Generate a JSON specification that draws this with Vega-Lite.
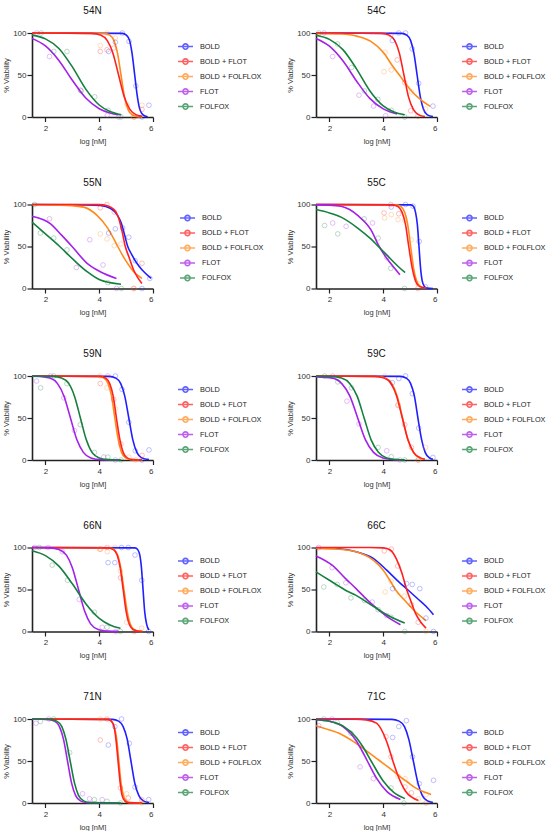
{
  "$schema": "https://vega.github.io/schema/vega-lite/v6.json",
  "padding": {"left": 2, "top": 6, "right": 0, "bottom": 0},
  "config": {
    "font": "Liberation Sans",
    "view": {"stroke": null},
    "axis": {"grid": false, "domainColor": "#222", "domainWidth": 1.6, "tickColor": "#222", "tickWidth": 1.2, "labelFontSize": 8, "labelColor": "#333", "titleFontSize": 7.5, "titleFontWeight": "normal", "titleColor": "#333"},
    "axisX": {"tickSize": 4.5, "labelPadding": 2.5, "titlePadding": 5},
    "axisY": {"tickSize": 5, "labelPadding": 1, "titlePadding": 2},
    "legend": {"orient": "right", "offset": 19, "padding": 5, "labelFontSize": 7.3, "labelColor": "#222", "labelOffset": 6, "symbolType": "M-1,0H1M-0.35,0A0.35,0.35 0 1,1 0.35,0A0.35,0.35 0 1,1 -0.35,0", "symbolSize": 225, "symbolStrokeWidth": 1.5, "symbolFillColor": "transparent", "rowPadding": 0},
    "title": {"fontSize": 10, "fontWeight": "normal", "color": "#111", "offset": 13, "frame": "group", "anchor": "middle"},
    "style": {"group-title": {"fontWeight": "normal", "fontSize": 10}}
  },
  "data": {"name": "d"},
  "datasets": {
    "d": [
      {"p":"54N","k":"c","d":"BOLD","x":1.5,"y":100},{"p":"54N","k":"c","d":"BOLD","x":4.86,"y":99.6},{"p":"54N","k":"c","d":"BOLD","x":5.01,"y":97.5},{"p":"54N","k":"c","d":"BOLD","x":5.13,"y":90.9},{"p":"54N","k":"c","d":"BOLD","x":5.22,"y":76},{"p":"54N","k":"c","d":"BOLD","x":5.32,"y":50},{"p":"54N","k":"c","d":"BOLD","x":5.42,"y":24},{"p":"54N","k":"c","d":"BOLD","x":5.51,"y":9.1},{"p":"54N","k":"c","d":"BOLD","x":5.63,"y":2.5},{"p":"54N","k":"c","d":"BOLD","x":5.8,"y":0.3},
      {"p":"54N","k":"c","d":"BOLD + FOLFLOX","x":1.5,"y":100},{"p":"54N","k":"c","d":"BOLD + FOLFLOX","x":4.18,"y":99.6},{"p":"54N","k":"c","d":"BOLD + FOLFLOX","x":4.39,"y":97.5},{"p":"54N","k":"c","d":"BOLD + FOLFLOX","x":4.55,"y":90.9},{"p":"54N","k":"c","d":"BOLD + FOLFLOX","x":4.68,"y":76},{"p":"54N","k":"c","d":"BOLD + FOLFLOX","x":4.81,"y":50},{"p":"54N","k":"c","d":"BOLD + FOLFLOX","x":4.94,"y":24},{"p":"54N","k":"c","d":"BOLD + FOLFLOX","x":5.07,"y":9.1},{"p":"54N","k":"c","d":"BOLD + FOLFLOX","x":5.23,"y":2.5},{"p":"54N","k":"c","d":"BOLD + FOLFLOX","x":5.44,"y":0.4},{"p":"54N","k":"c","d":"BOLD + FOLFLOX","x":5.6,"y":0.1},
      {"p":"54N","k":"c","d":"BOLD + FLOT","x":1.5,"y":100},{"p":"54N","k":"c","d":"BOLD + FLOT","x":3.72,"y":99.6},{"p":"54N","k":"c","d":"BOLD + FLOT","x":4.05,"y":97.5},{"p":"54N","k":"c","d":"BOLD + FLOT","x":4.3,"y":90.9},{"p":"54N","k":"c","d":"BOLD + FLOT","x":4.51,"y":76},{"p":"54N","k":"c","d":"BOLD + FLOT","x":4.72,"y":50},{"p":"54N","k":"c","d":"BOLD + FLOT","x":4.93,"y":24},{"p":"54N","k":"c","d":"BOLD + FLOT","x":5.14,"y":9.1},{"p":"54N","k":"c","d":"BOLD + FLOT","x":5.39,"y":2.5},{"p":"54N","k":"c","d":"BOLD + FLOT","x":5.6,"y":0.8},
      {"p":"54N","k":"c","d":"FLOT","x":1.5,"y":93.6},{"p":"54N","k":"c","d":"FLOT","x":2,"y":84.6},{"p":"54N","k":"c","d":"FLOT","x":2.5,"y":67.4},{"p":"54N","k":"c","d":"FLOT","x":3,"y":43.7},{"p":"54N","k":"c","d":"FLOT","x":3.5,"y":22.6},{"p":"54N","k":"c","d":"FLOT","x":4,"y":9.9},{"p":"54N","k":"c","d":"FLOT","x":4.4,"y":4.8},{"p":"54N","k":"c","d":"FLOT","x":4.72,"y":2.6},
      {"p":"54N","k":"c","d":"FOLFOX","x":1.5,"y":97.5},{"p":"54N","k":"c","d":"FOLFOX","x":2,"y":93},{"p":"54N","k":"c","d":"FOLFOX","x":2.5,"y":81.6},{"p":"54N","k":"c","d":"FOLFOX","x":3,"y":59.7},{"p":"54N","k":"c","d":"FOLFOX","x":3.5,"y":33.2},{"p":"54N","k":"c","d":"FOLFOX","x":4,"y":14.3},{"p":"54N","k":"c","d":"FOLFOX","x":4.4,"y":6.5},{"p":"54N","k":"c","d":"FOLFOX","x":4.82,"y":2.7},
      {"p":"54N","k":"o","d":"FLOT","x":1.67,"y":100},{"p":"54N","k":"o","d":"FLOT","x":2.15,"y":72},{"p":"54N","k":"o","d":"FLOT","x":3.3,"y":32},{"p":"54N","k":"o","d":"FLOT","x":4.3,"y":2},{"p":"54N","k":"o","d":"FLOT","x":4.72,"y":0},
      {"p":"54N","k":"o","d":"FOLFOX","x":1.84,"y":100},{"p":"54N","k":"o","d":"FOLFOX","x":2.31,"y":78},{"p":"54N","k":"o","d":"FOLFOX","x":2.8,"y":78},{"p":"54N","k":"o","d":"FOLFOX","x":3.33,"y":31},{"p":"54N","k":"o","d":"FOLFOX","x":3.83,"y":24},{"p":"54N","k":"o","d":"FOLFOX","x":4.33,"y":8},{"p":"54N","k":"o","d":"FOLFOX","x":4.81,"y":0},
      {"p":"54N","k":"o","d":"BOLD","x":4.35,"y":78},{"p":"54N","k":"o","d":"BOLD","x":4.6,"y":89},{"p":"54N","k":"o","d":"BOLD","x":4.86,"y":100},{"p":"54N","k":"o","d":"BOLD","x":5.11,"y":90},{"p":"54N","k":"o","d":"BOLD","x":5.36,"y":37},{"p":"54N","k":"o","d":"BOLD","x":5.85,"y":14},{"p":"54N","k":"o","d":"BOLD","x":5.59,"y":0},
      {"p":"54N","k":"o","d":"BOLD + FLOT","x":4.04,"y":78},{"p":"54N","k":"o","d":"BOLD + FLOT","x":4.29,"y":80},{"p":"54N","k":"o","d":"BOLD + FLOT","x":4.54,"y":82},{"p":"54N","k":"o","d":"BOLD + FLOT","x":5.59,"y":9},{"p":"54N","k":"o","d":"BOLD + FLOT","x":5.3,"y":0},
      {"p":"54N","k":"o","d":"BOLD + FOLFLOX","x":4.04,"y":85},{"p":"54N","k":"o","d":"BOLD + FOLFLOX","x":4.29,"y":100},{"p":"54N","k":"o","d":"BOLD + FOLFLOX","x":4.6,"y":94},{"p":"54N","k":"o","d":"BOLD + FOLFLOX","x":5.03,"y":15},{"p":"54N","k":"o","d":"BOLD + FOLFLOX","x":5.28,"y":0},{"p":"54N","k":"o","d":"BOLD + FOLFLOX","x":5.59,"y":14},

      {"p":"54C","k":"c","d":"BOLD","x":1.5,"y":100},{"p":"54C","k":"c","d":"BOLD","x":4.69,"y":99.6},{"p":"54C","k":"c","d":"BOLD","x":4.88,"y":97.5},{"p":"54C","k":"c","d":"BOLD","x":5.02,"y":90.9},{"p":"54C","k":"c","d":"BOLD","x":5.14,"y":76},{"p":"54C","k":"c","d":"BOLD","x":5.26,"y":50},{"p":"54C","k":"c","d":"BOLD","x":5.38,"y":24},{"p":"54C","k":"c","d":"BOLD","x":5.5,"y":9.1},{"p":"54C","k":"c","d":"BOLD","x":5.64,"y":2.5},{"p":"54C","k":"c","d":"BOLD","x":5.85,"y":0.4},
      {"p":"54C","k":"c","d":"BOLD + FOLFLOX","x":1.5,"y":99.6},{"p":"54C","k":"c","d":"BOLD + FOLFLOX","x":2.43,"y":98.8},{"p":"54C","k":"c","d":"BOLD + FOLFLOX","x":3.05,"y":96},{"p":"54C","k":"c","d":"BOLD + FOLFLOX","x":3.54,"y":90},{"p":"54C","k":"c","d":"BOLD + FOLFLOX","x":4.03,"y":76},{"p":"54C","k":"c","d":"BOLD + FOLFLOX","x":4.34,"y":61},{"p":"54C","k":"c","d":"BOLD + FOLFLOX","x":4.6,"y":50},{"p":"54C","k":"c","d":"BOLD + FOLFLOX","x":4.85,"y":39},{"p":"54C","k":"c","d":"BOLD + FOLFLOX","x":5.05,"y":31},{"p":"54C","k":"c","d":"BOLD + FOLFLOX","x":5.38,"y":21},{"p":"54C","k":"c","d":"BOLD + FOLFLOX","x":5.75,"y":12.6},
      {"p":"54C","k":"c","d":"BOLD + FLOT","x":1.5,"y":100},{"p":"54C","k":"c","d":"BOLD + FLOT","x":3.94,"y":99.6},{"p":"54C","k":"c","d":"BOLD + FLOT","x":4.22,"y":97.5},{"p":"54C","k":"c","d":"BOLD + FLOT","x":4.43,"y":90.9},{"p":"54C","k":"c","d":"BOLD + FLOT","x":4.6,"y":76},{"p":"54C","k":"c","d":"BOLD + FLOT","x":4.77,"y":50},{"p":"54C","k":"c","d":"BOLD + FLOT","x":4.94,"y":24},{"p":"54C","k":"c","d":"BOLD + FLOT","x":5.12,"y":9.1},{"p":"54C","k":"c","d":"BOLD + FLOT","x":5.32,"y":2.5},{"p":"54C","k":"c","d":"BOLD + FLOT","x":5.55,"y":0.5},
      {"p":"54C","k":"c","d":"FLOT","x":1.5,"y":93.5},{"p":"54C","k":"c","d":"FLOT","x":2,"y":84.3},{"p":"54C","k":"c","d":"FLOT","x":2.5,"y":66.9},{"p":"54C","k":"c","d":"FLOT","x":3,"y":43.2},{"p":"54C","k":"c","d":"FLOT","x":3.5,"y":22.2},{"p":"54C","k":"c","d":"FLOT","x":4,"y":9.7},{"p":"54C","k":"c","d":"FLOT","x":4.52,"y":3.7},
      {"p":"54C","k":"c","d":"FOLFOX","x":1.5,"y":97.3},{"p":"54C","k":"c","d":"FOLFOX","x":2,"y":92.4},{"p":"54C","k":"c","d":"FOLFOX","x":2.5,"y":80.2},{"p":"54C","k":"c","d":"FOLFOX","x":3,"y":57.6},{"p":"54C","k":"c","d":"FOLFOX","x":3.5,"y":31.3},{"p":"54C","k":"c","d":"FOLFOX","x":4,"y":13.2},{"p":"54C","k":"c","d":"FOLFOX","x":4.4,"y":6},{"p":"54C","k":"c","d":"FOLFOX","x":4.8,"y":2.6},
      {"p":"54C","k":"o","d":"FLOT","x":1.8,"y":100},{"p":"54C","k":"o","d":"FLOT","x":2.12,"y":72},{"p":"54C","k":"o","d":"FLOT","x":3.1,"y":26},{"p":"54C","k":"o","d":"FLOT","x":3.64,"y":13},{"p":"54C","k":"o","d":"FLOT","x":4.09,"y":1.5},
      {"p":"54C","k":"o","d":"FOLFOX","x":1.6,"y":100},{"p":"54C","k":"o","d":"FOLFOX","x":2.3,"y":87},{"p":"54C","k":"o","d":"FOLFOX","x":2.82,"y":59},{"p":"54C","k":"o","d":"FOLFOX","x":3.3,"y":31},{"p":"54C","k":"o","d":"FOLFOX","x":3.8,"y":21},{"p":"54C","k":"o","d":"FOLFOX","x":4.3,"y":8},{"p":"54C","k":"o","d":"FOLFOX","x":4.8,"y":0},
      {"p":"54C","k":"o","d":"BOLD","x":4.34,"y":91},{"p":"54C","k":"o","d":"BOLD","x":4.58,"y":100},{"p":"54C","k":"o","d":"BOLD","x":4.83,"y":100},{"p":"54C","k":"o","d":"BOLD","x":5.08,"y":81},{"p":"54C","k":"o","d":"BOLD","x":5.32,"y":40},{"p":"54C","k":"o","d":"BOLD","x":5.85,"y":13},
      {"p":"54C","k":"o","d":"BOLD + FLOT","x":4.28,"y":98},{"p":"54C","k":"o","d":"BOLD + FLOT","x":4.52,"y":68},{"p":"54C","k":"o","d":"BOLD + FLOT","x":4.8,"y":41},{"p":"54C","k":"o","d":"BOLD + FLOT","x":5.02,"y":7.5},{"p":"54C","k":"o","d":"BOLD + FLOT","x":5.29,"y":1},
      {"p":"54C","k":"o","d":"BOLD + FOLFLOX","x":4.07,"y":77},{"p":"54C","k":"o","d":"BOLD + FOLFLOX","x":4.03,"y":54},{"p":"54C","k":"o","d":"BOLD + FOLFLOX","x":4.3,"y":56},{"p":"54C","k":"o","d":"BOLD + FOLFLOX","x":5.05,"y":30},{"p":"54C","k":"o","d":"BOLD + FOLFLOX","x":5.57,"y":9.4},

      {"p":"55N","k":"c","d":"BOLD","x":1.5,"y":100},{"p":"55N","k":"c","d":"BOLD","x":3.5,"y":99.6},{"p":"55N","k":"c","d":"BOLD","x":4.04,"y":98.8},{"p":"55N","k":"c","d":"BOLD","x":4.41,"y":95.5},{"p":"55N","k":"c","d":"BOLD","x":4.66,"y":88},{"p":"55N","k":"c","d":"BOLD","x":4.82,"y":78},{"p":"55N","k":"c","d":"BOLD","x":4.95,"y":63},{"p":"55N","k":"c","d":"BOLD","x":5.05,"y":51},{"p":"55N","k":"c","d":"BOLD","x":5.2,"y":41},{"p":"55N","k":"c","d":"BOLD","x":5.4,"y":30},{"p":"55N","k":"c","d":"BOLD","x":5.6,"y":22},{"p":"55N","k":"c","d":"BOLD","x":5.93,"y":12},
      {"p":"55N","k":"c","d":"BOLD + FOLFLOX","x":1.5,"y":99.8},{"p":"55N","k":"c","d":"BOLD + FOLFLOX","x":2.8,"y":99},{"p":"55N","k":"c","d":"BOLD + FOLFLOX","x":3.42,"y":96.9},{"p":"55N","k":"c","d":"BOLD + FOLFLOX","x":3.92,"y":87},{"p":"55N","k":"c","d":"BOLD + FOLFLOX","x":4.29,"y":73},{"p":"55N","k":"c","d":"BOLD + FOLFLOX","x":4.6,"y":55.5},{"p":"55N","k":"c","d":"BOLD + FOLFLOX","x":4.69,"y":50},{"p":"55N","k":"c","d":"BOLD + FOLFLOX","x":4.97,"y":34},{"p":"55N","k":"c","d":"BOLD + FOLFLOX","x":5.28,"y":20},{"p":"55N","k":"c","d":"BOLD + FOLFLOX","x":5.59,"y":12},
      {"p":"55N","k":"c","d":"BOLD + FLOT","x":1.5,"y":100},{"p":"55N","k":"c","d":"BOLD + FLOT","x":4,"y":99.8},{"p":"55N","k":"c","d":"BOLD + FLOT","x":4.3,"y":98.5},{"p":"55N","k":"c","d":"BOLD + FLOT","x":4.55,"y":94},{"p":"55N","k":"c","d":"BOLD + FLOT","x":4.7,"y":86},{"p":"55N","k":"c","d":"BOLD + FLOT","x":4.85,"y":68},{"p":"55N","k":"c","d":"BOLD + FLOT","x":4.97,"y":50},{"p":"55N","k":"c","d":"BOLD + FLOT","x":5.1,"y":38},{"p":"55N","k":"c","d":"BOLD + FLOT","x":5.28,"y":22},{"p":"55N","k":"c","d":"BOLD + FLOT","x":5.45,"y":12},{"p":"55N","k":"c","d":"BOLD + FLOT","x":5.59,"y":6},
      {"p":"55N","k":"c","d":"FLOT","x":1.5,"y":86},{"p":"55N","k":"c","d":"FLOT","x":2.19,"y":77},{"p":"55N","k":"c","d":"FLOT","x":2.6,"y":63.5},{"p":"55N","k":"c","d":"FLOT","x":2.99,"y":50},{"p":"55N","k":"c","d":"FLOT","x":3.55,"y":30},{"p":"55N","k":"c","d":"FLOT","x":4.04,"y":20},{"p":"55N","k":"c","d":"FLOT","x":4.64,"y":12},
      {"p":"55N","k":"c","d":"FOLFOX","x":1.5,"y":79},{"p":"55N","k":"c","d":"FOLFOX","x":2,"y":65},{"p":"55N","k":"c","d":"FOLFOX","x":2.53,"y":50},{"p":"55N","k":"c","d":"FOLFOX","x":3.05,"y":34},{"p":"55N","k":"c","d":"FOLFOX","x":3.55,"y":20},{"p":"55N","k":"c","d":"FOLFOX","x":4.04,"y":10},{"p":"55N","k":"c","d":"FOLFOX","x":4.4,"y":7},{"p":"55N","k":"c","d":"FOLFOX","x":4.81,"y":5},
      {"p":"55N","k":"o","d":"FLOT","x":2.15,"y":83},{"p":"55N","k":"o","d":"FLOT","x":3.15,"y":25},{"p":"55N","k":"o","d":"FLOT","x":3.65,"y":58},{"p":"55N","k":"o","d":"FLOT","x":4.14,"y":28},{"p":"55N","k":"o","d":"FLOT","x":4.64,"y":0},
      {"p":"55N","k":"o","d":"FOLFOX","x":1.6,"y":100},{"p":"55N","k":"o","d":"FOLFOX","x":1.81,"y":66},{"p":"55N","k":"o","d":"FOLFOX","x":2.31,"y":60},{"p":"55N","k":"o","d":"FOLFOX","x":2.8,"y":46},{"p":"55N","k":"o","d":"FOLFOX","x":4.32,"y":7},{"p":"55N","k":"o","d":"FOLFOX","x":4.82,"y":0},
      {"p":"55N","k":"o","d":"BOLD","x":4.35,"y":66},{"p":"55N","k":"o","d":"BOLD","x":4.6,"y":71},{"p":"55N","k":"o","d":"BOLD","x":4.87,"y":72},{"p":"55N","k":"o","d":"BOLD","x":5.1,"y":61},{"p":"55N","k":"o","d":"BOLD","x":5.34,"y":33},{"p":"55N","k":"o","d":"BOLD","x":5.88,"y":12},{"p":"55N","k":"o","d":"BOLD","x":5.59,"y":0},
      {"p":"55N","k":"o","d":"BOLD + FLOT","x":4.04,"y":96},{"p":"55N","k":"o","d":"BOLD + FLOT","x":4.29,"y":100},{"p":"55N","k":"o","d":"BOLD + FLOT","x":4.56,"y":91},{"p":"55N","k":"o","d":"BOLD + FLOT","x":5.59,"y":30},{"p":"55N","k":"o","d":"BOLD + FLOT","x":5.28,"y":0},
      {"p":"55N","k":"o","d":"BOLD + FOLFLOX","x":4.04,"y":65},{"p":"55N","k":"o","d":"BOLD + FOLFLOX","x":4.29,"y":59},{"p":"55N","k":"o","d":"BOLD + FOLFLOX","x":4.56,"y":51},{"p":"55N","k":"o","d":"BOLD + FOLFLOX","x":4.81,"y":53},{"p":"55N","k":"o","d":"BOLD + FOLFLOX","x":5.3,"y":0},

      {"p":"55C","k":"c","d":"BOLD","x":1.5,"y":100},{"p":"55C","k":"c","d":"BOLD","x":5.03,"y":99.6},{"p":"55C","k":"c","d":"BOLD","x":5.13,"y":97.5},{"p":"55C","k":"c","d":"BOLD","x":5.2,"y":90.9},{"p":"55C","k":"c","d":"BOLD","x":5.27,"y":76},{"p":"55C","k":"c","d":"BOLD","x":5.33,"y":50},{"p":"55C","k":"c","d":"BOLD","x":5.39,"y":24},{"p":"55C","k":"c","d":"BOLD","x":5.45,"y":9.1},{"p":"55C","k":"c","d":"BOLD","x":5.53,"y":2.5},{"p":"55C","k":"c","d":"BOLD","x":5.63,"y":0.4},{"p":"55C","k":"c","d":"BOLD","x":5.85,"y":0},
      {"p":"55C","k":"c","d":"BOLD + FOLFLOX","x":1.5,"y":100},{"p":"55C","k":"c","d":"BOLD + FOLFLOX","x":4.49,"y":99.6},{"p":"55C","k":"c","d":"BOLD + FOLFLOX","x":4.66,"y":97.5},{"p":"55C","k":"c","d":"BOLD + FOLFLOX","x":4.8,"y":90.9},{"p":"55C","k":"c","d":"BOLD + FOLFLOX","x":4.91,"y":76},{"p":"55C","k":"c","d":"BOLD + FOLFLOX","x":5.02,"y":50},{"p":"55C","k":"c","d":"BOLD + FOLFLOX","x":5.13,"y":24},{"p":"55C","k":"c","d":"BOLD + FOLFLOX","x":5.24,"y":9.1},{"p":"55C","k":"c","d":"BOLD + FOLFLOX","x":5.38,"y":2.5},{"p":"55C","k":"c","d":"BOLD + FOLFLOX","x":5.6,"y":0.2},
      {"p":"55C","k":"c","d":"BOLD + FLOT","x":1.5,"y":100},{"p":"55C","k":"c","d":"BOLD + FLOT","x":4.35,"y":99.6},{"p":"55C","k":"c","d":"BOLD + FLOT","x":4.55,"y":97.5},{"p":"55C","k":"c","d":"BOLD + FLOT","x":4.7,"y":90.9},{"p":"55C","k":"c","d":"BOLD + FLOT","x":4.83,"y":76},{"p":"55C","k":"c","d":"BOLD + FLOT","x":4.95,"y":50},{"p":"55C","k":"c","d":"BOLD + FLOT","x":5.08,"y":24},{"p":"55C","k":"c","d":"BOLD + FLOT","x":5.2,"y":9.1},{"p":"55C","k":"c","d":"BOLD + FLOT","x":5.35,"y":2.5},{"p":"55C","k":"c","d":"BOLD + FLOT","x":5.6,"y":0.3},
      {"p":"55C","k":"c","d":"FLOT","x":1.5,"y":99.5},{"p":"55C","k":"c","d":"FLOT","x":2,"y":99.2},{"p":"55C","k":"c","d":"FLOT","x":2.43,"y":98},{"p":"55C","k":"c","d":"FLOT","x":2.75,"y":94},{"p":"55C","k":"c","d":"FLOT","x":3.05,"y":87},{"p":"55C","k":"c","d":"FLOT","x":3.54,"y":70},{"p":"55C","k":"c","d":"FLOT","x":3.85,"y":50},{"p":"55C","k":"c","d":"FLOT","x":4.13,"y":36},{"p":"55C","k":"c","d":"FLOT","x":4.4,"y":25},{"p":"55C","k":"c","d":"FLOT","x":4.62,"y":16.5},
      {"p":"55C","k":"c","d":"FOLFOX","x":1.5,"y":94},{"p":"55C","k":"c","d":"FOLFOX","x":2,"y":90},{"p":"55C","k":"c","d":"FOLFOX","x":2.43,"y":85},{"p":"55C","k":"c","d":"FOLFOX","x":3.05,"y":72},{"p":"55C","k":"c","d":"FOLFOX","x":3.54,"y":59},{"p":"55C","k":"c","d":"FOLFOX","x":3.82,"y":50},{"p":"55C","k":"c","d":"FOLFOX","x":4.13,"y":40},{"p":"55C","k":"c","d":"FOLFOX","x":4.5,"y":28},{"p":"55C","k":"c","d":"FOLFOX","x":4.81,"y":19},
      {"p":"55C","k":"o","d":"FLOT","x":2.12,"y":78},{"p":"55C","k":"o","d":"FLOT","x":2.62,"y":74},{"p":"55C","k":"o","d":"FLOT","x":3.6,"y":78},{"p":"55C","k":"o","d":"FLOT","x":4.13,"y":37},
      {"p":"55C","k":"o","d":"FOLFOX","x":1.82,"y":75},{"p":"55C","k":"o","d":"FOLFOX","x":2.31,"y":65},{"p":"55C","k":"o","d":"FOLFOX","x":3.29,"y":83},{"p":"55C","k":"o","d":"FOLFOX","x":3.81,"y":60},{"p":"55C","k":"o","d":"FOLFOX","x":4.28,"y":24},{"p":"55C","k":"o","d":"FOLFOX","x":4.79,"y":0},
      {"p":"55C","k":"o","d":"BOLD","x":4.3,"y":97},{"p":"55C","k":"o","d":"BOLD","x":4.83,"y":100},{"p":"55C","k":"o","d":"BOLD","x":5.11,"y":98},{"p":"55C","k":"o","d":"BOLD","x":5.34,"y":56},{"p":"55C","k":"o","d":"BOLD","x":5.57,"y":2},
      {"p":"55C","k":"o","d":"BOLD + FLOT","x":4.03,"y":90},{"p":"55C","k":"o","d":"BOLD + FLOT","x":4.28,"y":100},{"p":"55C","k":"o","d":"BOLD + FLOT","x":4.58,"y":89},{"p":"55C","k":"o","d":"BOLD + FLOT","x":5.29,"y":0},
      {"p":"55C","k":"o","d":"BOLD + FOLFLOX","x":4.05,"y":84},{"p":"55C","k":"o","d":"BOLD + FOLFLOX","x":4.3,"y":88},{"p":"55C","k":"o","d":"BOLD + FOLFLOX","x":4.55,"y":82},{"p":"55C","k":"o","d":"BOLD + FOLFLOX","x":4.8,"y":81},{"p":"55C","k":"o","d":"BOLD + FOLFLOX","x":5.04,"y":58},{"p":"55C","k":"o","d":"BOLD + FOLFLOX","x":5.29,"y":6},

      {"p":"59N","k":"c","d":"BOLD","x":1.5,"y":100},{"p":"59N","k":"c","d":"BOLD","x":4.37,"y":99.6},{"p":"59N","k":"c","d":"BOLD","x":4.62,"y":97.5},{"p":"59N","k":"c","d":"BOLD","x":4.8,"y":90.9},{"p":"59N","k":"c","d":"BOLD","x":4.95,"y":76},{"p":"59N","k":"c","d":"BOLD","x":5.1,"y":50},{"p":"59N","k":"c","d":"BOLD","x":5.25,"y":24},{"p":"59N","k":"c","d":"BOLD","x":5.4,"y":9.1},{"p":"59N","k":"c","d":"BOLD","x":5.58,"y":2.5},{"p":"59N","k":"c","d":"BOLD","x":5.85,"y":0.4},
      {"p":"59N","k":"c","d":"BOLD + FOLFLOX","x":1.5,"y":100},{"p":"59N","k":"c","d":"BOLD + FOLFLOX","x":3.98,"y":99.6},{"p":"59N","k":"c","d":"BOLD + FOLFLOX","x":4.18,"y":97.5},{"p":"59N","k":"c","d":"BOLD + FOLFLOX","x":4.33,"y":90.9},{"p":"59N","k":"c","d":"BOLD + FOLFLOX","x":4.46,"y":76},{"p":"59N","k":"c","d":"BOLD + FOLFLOX","x":4.58,"y":50},{"p":"59N","k":"c","d":"BOLD + FOLFLOX","x":4.71,"y":24},{"p":"59N","k":"c","d":"BOLD + FOLFLOX","x":4.83,"y":9.1},{"p":"59N","k":"c","d":"BOLD + FOLFLOX","x":4.98,"y":2.5},{"p":"59N","k":"c","d":"BOLD + FOLFLOX","x":5.18,"y":0.4},{"p":"59N","k":"c","d":"BOLD + FOLFLOX","x":5.6,"y":0},
      {"p":"59N","k":"c","d":"BOLD + FLOT","x":1.5,"y":100},{"p":"59N","k":"c","d":"BOLD + FLOT","x":4.04,"y":99.6},{"p":"59N","k":"c","d":"BOLD + FLOT","x":4.24,"y":97.5},{"p":"59N","k":"c","d":"BOLD + FLOT","x":4.39,"y":90.9},{"p":"59N","k":"c","d":"BOLD + FLOT","x":4.52,"y":76},{"p":"59N","k":"c","d":"BOLD + FLOT","x":4.64,"y":50},{"p":"59N","k":"c","d":"BOLD + FLOT","x":4.77,"y":24},{"p":"59N","k":"c","d":"BOLD + FLOT","x":4.89,"y":9.1},{"p":"59N","k":"c","d":"BOLD + FLOT","x":5.04,"y":2.5},{"p":"59N","k":"c","d":"BOLD + FLOT","x":5.24,"y":0.4},{"p":"59N","k":"c","d":"BOLD + FLOT","x":5.6,"y":0},
      {"p":"59N","k":"c","d":"FLOT","x":1.5,"y":99.9},{"p":"59N","k":"c","d":"FLOT","x":1.79,"y":99.6},{"p":"59N","k":"c","d":"FLOT","x":2.17,"y":97.5},{"p":"59N","k":"c","d":"FLOT","x":2.45,"y":90.9},{"p":"59N","k":"c","d":"FLOT","x":2.69,"y":76},{"p":"59N","k":"c","d":"FLOT","x":2.93,"y":50},{"p":"59N","k":"c","d":"FLOT","x":3.17,"y":24},{"p":"59N","k":"c","d":"FLOT","x":3.41,"y":9.1},{"p":"59N","k":"c","d":"FLOT","x":3.69,"y":2.5},{"p":"59N","k":"c","d":"FLOT","x":4.07,"y":0.4},{"p":"59N","k":"c","d":"FLOT","x":4.72,"y":0},
      {"p":"59N","k":"c","d":"FOLFOX","x":1.5,"y":100},{"p":"59N","k":"c","d":"FOLFOX","x":2.26,"y":99.6},{"p":"59N","k":"c","d":"FOLFOX","x":2.6,"y":97.5},{"p":"59N","k":"c","d":"FOLFOX","x":2.87,"y":90.9},{"p":"59N","k":"c","d":"FOLFOX","x":3.08,"y":76},{"p":"59N","k":"c","d":"FOLFOX","x":3.3,"y":50},{"p":"59N","k":"c","d":"FOLFOX","x":3.52,"y":24},{"p":"59N","k":"c","d":"FOLFOX","x":3.73,"y":9.1},{"p":"59N","k":"c","d":"FOLFOX","x":4,"y":2.5},{"p":"59N","k":"c","d":"FOLFOX","x":4.34,"y":0.4},{"p":"59N","k":"c","d":"FOLFOX","x":4.82,"y":0},
      {"p":"59N","k":"o","d":"FLOT","x":1.67,"y":94},{"p":"59N","k":"o","d":"FLOT","x":2.19,"y":100},{"p":"59N","k":"o","d":"FLOT","x":2.68,"y":74},{"p":"59N","k":"o","d":"FLOT","x":3.08,"y":35},{"p":"59N","k":"o","d":"FLOT","x":4.17,"y":3.5},{"p":"59N","k":"o","d":"FLOT","x":4.6,"y":0},
      {"p":"59N","k":"o","d":"FOLFOX","x":1.82,"y":86},{"p":"59N","k":"o","d":"FOLFOX","x":2.31,"y":100},{"p":"59N","k":"o","d":"FOLFOX","x":2.8,"y":91},{"p":"59N","k":"o","d":"FOLFOX","x":3.3,"y":42},{"p":"59N","k":"o","d":"FOLFOX","x":3.82,"y":9},{"p":"59N","k":"o","d":"FOLFOX","x":4.32,"y":3.5},{"p":"59N","k":"o","d":"FOLFOX","x":4.81,"y":0},
      {"p":"59N","k":"o","d":"BOLD","x":4.6,"y":100},{"p":"59N","k":"o","d":"BOLD","x":4.85,"y":84},{"p":"59N","k":"o","d":"BOLD","x":5.1,"y":45},{"p":"59N","k":"o","d":"BOLD","x":5.34,"y":11},{"p":"59N","k":"o","d":"BOLD","x":5.85,"y":12},{"p":"59N","k":"o","d":"BOLD","x":5.59,"y":0},
      {"p":"59N","k":"o","d":"BOLD + FLOT","x":4.04,"y":91},{"p":"59N","k":"o","d":"BOLD + FLOT","x":4.32,"y":100},{"p":"59N","k":"o","d":"BOLD + FLOT","x":4.54,"y":72},{"p":"59N","k":"o","d":"BOLD + FLOT","x":4.81,"y":19},{"p":"59N","k":"o","d":"BOLD + FLOT","x":5.59,"y":5.5},
      {"p":"59N","k":"o","d":"BOLD + FOLFLOX","x":4.04,"y":100},{"p":"59N","k":"o","d":"BOLD + FOLFLOX","x":4.29,"y":86},{"p":"59N","k":"o","d":"BOLD + FOLFLOX","x":4.6,"y":61},{"p":"59N","k":"o","d":"BOLD + FOLFLOX","x":5.1,"y":3.5},{"p":"59N","k":"o","d":"BOLD + FOLFLOX","x":5.35,"y":0},

      {"p":"59C","k":"c","d":"BOLD","x":1.5,"y":100},{"p":"59C","k":"c","d":"BOLD","x":4.64,"y":99.6},{"p":"59C","k":"c","d":"BOLD","x":4.86,"y":97.5},{"p":"59C","k":"c","d":"BOLD","x":5.02,"y":90.9},{"p":"59C","k":"c","d":"BOLD","x":5.16,"y":76},{"p":"59C","k":"c","d":"BOLD","x":5.29,"y":50},{"p":"59C","k":"c","d":"BOLD","x":5.43,"y":24},{"p":"59C","k":"c","d":"BOLD","x":5.56,"y":9.1},{"p":"59C","k":"c","d":"BOLD","x":5.72,"y":2.5},{"p":"59C","k":"c","d":"BOLD","x":5.85,"y":0.8},
      {"p":"59C","k":"c","d":"BOLD + FOLFLOX","x":1.5,"y":100},{"p":"59C","k":"c","d":"BOLD + FOLFLOX","x":3.76,"y":99.6},{"p":"59C","k":"c","d":"BOLD + FOLFLOX","x":4.08,"y":97.5},{"p":"59C","k":"c","d":"BOLD + FOLFLOX","x":4.32,"y":90.9},{"p":"59C","k":"c","d":"BOLD + FOLFLOX","x":4.52,"y":76},{"p":"59C","k":"c","d":"BOLD + FOLFLOX","x":4.72,"y":50},{"p":"59C","k":"c","d":"BOLD + FOLFLOX","x":4.92,"y":24},{"p":"59C","k":"c","d":"BOLD + FOLFLOX","x":5.12,"y":9.1},{"p":"59C","k":"c","d":"BOLD + FOLFLOX","x":5.36,"y":2.5},{"p":"59C","k":"c","d":"BOLD + FOLFLOX","x":5.55,"y":0.8},
      {"p":"59C","k":"c","d":"BOLD + FLOT","x":1.5,"y":100},{"p":"59C","k":"c","d":"BOLD + FLOT","x":3.71,"y":99.6},{"p":"59C","k":"c","d":"BOLD + FLOT","x":4.04,"y":97.5},{"p":"59C","k":"c","d":"BOLD + FLOT","x":4.29,"y":90.9},{"p":"59C","k":"c","d":"BOLD + FLOT","x":4.5,"y":76},{"p":"59C","k":"c","d":"BOLD + FLOT","x":4.71,"y":50},{"p":"59C","k":"c","d":"BOLD + FLOT","x":4.92,"y":24},{"p":"59C","k":"c","d":"BOLD + FLOT","x":5.13,"y":9.1},{"p":"59C","k":"c","d":"BOLD + FLOT","x":5.38,"y":2.5},{"p":"59C","k":"c","d":"BOLD + FLOT","x":5.55,"y":0.9},
      {"p":"59C","k":"c","d":"FLOT","x":1.5,"y":99},{"p":"59C","k":"c","d":"FLOT","x":2.11,"y":97.5},{"p":"59C","k":"c","d":"FLOT","x":2.46,"y":90.9},{"p":"59C","k":"c","d":"FLOT","x":2.76,"y":76},{"p":"59C","k":"c","d":"FLOT","x":3.05,"y":50},{"p":"59C","k":"c","d":"FLOT","x":3.34,"y":24},{"p":"59C","k":"c","d":"FLOT","x":3.64,"y":9.1},{"p":"59C","k":"c","d":"FLOT","x":3.99,"y":2.5},{"p":"59C","k":"c","d":"FLOT","x":4.46,"y":0.4},{"p":"59C","k":"c","d":"FLOT","x":4.62,"y":0.2},
      {"p":"59C","k":"c","d":"FOLFOX","x":1.5,"y":100},{"p":"59C","k":"c","d":"FOLFOX","x":2.03,"y":99.6},{"p":"59C","k":"c","d":"FOLFOX","x":2.45,"y":97.5},{"p":"59C","k":"c","d":"FOLFOX","x":2.76,"y":90.9},{"p":"59C","k":"c","d":"FOLFOX","x":3.03,"y":76},{"p":"59C","k":"c","d":"FOLFOX","x":3.29,"y":50},{"p":"59C","k":"c","d":"FOLFOX","x":3.55,"y":24},{"p":"59C","k":"c","d":"FOLFOX","x":3.82,"y":9.1},{"p":"59C","k":"c","d":"FOLFOX","x":4.13,"y":2.5},{"p":"59C","k":"c","d":"FOLFOX","x":4.55,"y":0.4},{"p":"59C","k":"c","d":"FOLFOX","x":4.8,"y":0.1},
      {"p":"59C","k":"o","d":"FLOT","x":2.12,"y":100},{"p":"59C","k":"o","d":"FLOT","x":2.65,"y":70},{"p":"59C","k":"o","d":"FLOT","x":3.1,"y":43},{"p":"59C","k":"o","d":"FLOT","x":4.13,"y":11},{"p":"59C","k":"o","d":"FLOT","x":4.62,"y":0},
      {"p":"59C","k":"o","d":"FOLFOX","x":1.82,"y":100},{"p":"59C","k":"o","d":"FOLFOX","x":2.31,"y":93},{"p":"59C","k":"o","d":"FOLFOX","x":2.82,"y":86},{"p":"59C","k":"o","d":"FOLFOX","x":3.81,"y":15},{"p":"59C","k":"o","d":"FOLFOX","x":4.3,"y":4},{"p":"59C","k":"o","d":"FOLFOX","x":4.8,"y":0},
      {"p":"59C","k":"o","d":"BOLD","x":4.34,"y":92},{"p":"59C","k":"o","d":"BOLD","x":4.58,"y":97},{"p":"59C","k":"o","d":"BOLD","x":4.83,"y":100},{"p":"59C","k":"o","d":"BOLD","x":5.08,"y":79},{"p":"59C","k":"o","d":"BOLD","x":5.32,"y":38},{"p":"59C","k":"o","d":"BOLD","x":5.85,"y":3},
      {"p":"59C","k":"o","d":"BOLD + FLOT","x":4.55,"y":65},{"p":"59C","k":"o","d":"BOLD + FLOT","x":4.8,"y":42},{"p":"59C","k":"o","d":"BOLD + FLOT","x":5.05,"y":15},{"p":"59C","k":"o","d":"BOLD + FLOT","x":5.3,"y":0},
      {"p":"59C","k":"o","d":"BOLD + FOLFLOX","x":4.06,"y":100},{"p":"59C","k":"o","d":"BOLD + FOLFLOX","x":4.55,"y":66},{"p":"59C","k":"o","d":"BOLD + FOLFLOX","x":5.3,"y":0},{"p":"59C","k":"o","d":"BOLD + FOLFLOX","x":5.57,"y":15},

      {"p":"66N","k":"c","d":"BOLD","x":1.5,"y":100},{"p":"66N","k":"c","d":"BOLD","x":5.33,"y":99.6},{"p":"66N","k":"c","d":"BOLD","x":5.43,"y":97.5},{"p":"66N","k":"c","d":"BOLD","x":5.51,"y":90.9},{"p":"66N","k":"c","d":"BOLD","x":5.57,"y":76},{"p":"66N","k":"c","d":"BOLD","x":5.63,"y":50},{"p":"66N","k":"c","d":"BOLD","x":5.69,"y":24},{"p":"66N","k":"c","d":"BOLD","x":5.76,"y":9.1},{"p":"66N","k":"c","d":"BOLD","x":5.85,"y":1.7},
      {"p":"66N","k":"c","d":"BOLD + FOLFLOX","x":1.5,"y":100},{"p":"66N","k":"c","d":"BOLD + FOLFLOX","x":4.36,"y":99.6},{"p":"66N","k":"c","d":"BOLD + FOLFLOX","x":4.55,"y":97.5},{"p":"66N","k":"c","d":"BOLD + FOLFLOX","x":4.69,"y":90.9},{"p":"66N","k":"c","d":"BOLD + FOLFLOX","x":4.8,"y":76},{"p":"66N","k":"c","d":"BOLD + FOLFLOX","x":4.92,"y":50},{"p":"66N","k":"c","d":"BOLD + FOLFLOX","x":5.04,"y":24},{"p":"66N","k":"c","d":"BOLD + FOLFLOX","x":5.15,"y":9.1},{"p":"66N","k":"c","d":"BOLD + FOLFLOX","x":5.29,"y":2.5},{"p":"66N","k":"c","d":"BOLD + FOLFLOX","x":5.48,"y":0.4},{"p":"66N","k":"c","d":"BOLD + FOLFLOX","x":5.6,"y":0.1},
      {"p":"66N","k":"c","d":"BOLD + FLOT","x":1.5,"y":100},{"p":"66N","k":"c","d":"BOLD + FLOT","x":4.36,"y":99.6},{"p":"66N","k":"c","d":"BOLD + FLOT","x":4.53,"y":97.5},{"p":"66N","k":"c","d":"BOLD + FLOT","x":4.67,"y":90.9},{"p":"66N","k":"c","d":"BOLD + FLOT","x":4.78,"y":76},{"p":"66N","k":"c","d":"BOLD + FLOT","x":4.89,"y":50},{"p":"66N","k":"c","d":"BOLD + FLOT","x":5,"y":24},{"p":"66N","k":"c","d":"BOLD + FLOT","x":5.11,"y":9.1},{"p":"66N","k":"c","d":"BOLD + FLOT","x":5.25,"y":2.5},{"p":"66N","k":"c","d":"BOLD + FLOT","x":5.42,"y":0.4},{"p":"66N","k":"c","d":"BOLD + FLOT","x":5.6,"y":0.1},
      {"p":"66N","k":"c","d":"FLOT","x":1.5,"y":100},{"p":"66N","k":"c","d":"FLOT","x":2.14,"y":99.6},{"p":"66N","k":"c","d":"FLOT","x":2.5,"y":97.5},{"p":"66N","k":"c","d":"FLOT","x":2.78,"y":90.9},{"p":"66N","k":"c","d":"FLOT","x":3,"y":76},{"p":"66N","k":"c","d":"FLOT","x":3.23,"y":50},{"p":"66N","k":"c","d":"FLOT","x":3.46,"y":24},{"p":"66N","k":"c","d":"FLOT","x":3.68,"y":9.1},{"p":"66N","k":"c","d":"FLOT","x":3.96,"y":2.5},{"p":"66N","k":"c","d":"FLOT","x":4.32,"y":0.4},{"p":"66N","k":"c","d":"FLOT","x":4.7,"y":0.1},
      {"p":"66N","k":"c","d":"FOLFOX","x":1.5,"y":96.1},{"p":"66N","k":"c","d":"FOLFOX","x":2,"y":90.3},{"p":"66N","k":"c","d":"FOLFOX","x":2.5,"y":77.8},{"p":"66N","k":"c","d":"FOLFOX","x":3,"y":56.8},{"p":"66N","k":"c","d":"FOLFOX","x":3.5,"y":33.1},{"p":"66N","k":"c","d":"FOLFOX","x":4,"y":15.7},{"p":"66N","k":"c","d":"FOLFOX","x":4.4,"y":7.8},{"p":"66N","k":"c","d":"FOLFOX","x":4.79,"y":3.8},
      {"p":"66N","k":"o","d":"FLOT","x":1.6,"y":100},{"p":"66N","k":"o","d":"FLOT","x":2.1,"y":100},{"p":"66N","k":"o","d":"FLOT","x":2.63,"y":95},{"p":"66N","k":"o","d":"FLOT","x":3.26,"y":38},{"p":"66N","k":"o","d":"FLOT","x":4.11,"y":5},{"p":"66N","k":"o","d":"FLOT","x":4.62,"y":0},
      {"p":"66N","k":"o","d":"FOLFOX","x":1.77,"y":100},{"p":"66N","k":"o","d":"FOLFOX","x":2.25,"y":79},{"p":"66N","k":"o","d":"FOLFOX","x":2.82,"y":61},{"p":"66N","k":"o","d":"FOLFOX","x":3.82,"y":23},{"p":"66N","k":"o","d":"FOLFOX","x":4.29,"y":5},{"p":"66N","k":"o","d":"FOLFOX","x":4.79,"y":0},
      {"p":"66N","k":"o","d":"BOLD","x":4.33,"y":82},{"p":"66N","k":"o","d":"BOLD","x":4.58,"y":82},{"p":"66N","k":"o","d":"BOLD","x":4.83,"y":100},{"p":"66N","k":"o","d":"BOLD","x":5.08,"y":100},{"p":"66N","k":"o","d":"BOLD","x":5.33,"y":91},{"p":"66N","k":"o","d":"BOLD","x":5.58,"y":61},{"p":"66N","k":"o","d":"BOLD","x":5.84,"y":0},
      {"p":"66N","k":"o","d":"BOLD + FLOT","x":4.05,"y":98},{"p":"66N","k":"o","d":"BOLD + FLOT","x":4.29,"y":100},{"p":"66N","k":"o","d":"BOLD + FLOT","x":4.79,"y":64},{"p":"66N","k":"o","d":"BOLD + FLOT","x":5.3,"y":0},
      {"p":"66N","k":"o","d":"BOLD + FOLFLOX","x":4.01,"y":98},{"p":"66N","k":"o","d":"BOLD + FOLFLOX","x":4.3,"y":95},{"p":"66N","k":"o","d":"BOLD + FOLFLOX","x":4.58,"y":100},{"p":"66N","k":"o","d":"BOLD + FOLFLOX","x":4.79,"y":72},{"p":"66N","k":"o","d":"BOLD + FOLFLOX","x":5.02,"y":11},{"p":"66N","k":"o","d":"BOLD + FOLFLOX","x":5.58,"y":4},

      {"p":"66C","k":"c","d":"BOLD","x":1.5,"y":99.5},{"p":"66C","k":"c","d":"BOLD","x":2.35,"y":98.5},{"p":"66C","k":"c","d":"BOLD","x":2.99,"y":95},{"p":"66C","k":"c","d":"BOLD","x":3.63,"y":87},{"p":"66C","k":"c","d":"BOLD","x":4.13,"y":73},{"p":"66C","k":"c","d":"BOLD","x":4.58,"y":59},{"p":"66C","k":"c","d":"BOLD","x":4.9,"y":50},{"p":"66C","k":"c","d":"BOLD","x":5.28,"y":39},{"p":"66C","k":"c","d":"BOLD","x":5.59,"y":30},{"p":"66C","k":"c","d":"BOLD","x":5.87,"y":20},
      {"p":"66C","k":"c","d":"BOLD + FOLFLOX","x":1.5,"y":99},{"p":"66C","k":"c","d":"BOLD + FOLFLOX","x":2.35,"y":98},{"p":"66C","k":"c","d":"BOLD + FOLFLOX","x":2.99,"y":95},{"p":"66C","k":"c","d":"BOLD + FOLFLOX","x":3.63,"y":85},{"p":"66C","k":"c","d":"BOLD + FOLFLOX","x":4,"y":73},{"p":"66C","k":"c","d":"BOLD + FOLFLOX","x":4.32,"y":57},{"p":"66C","k":"c","d":"BOLD + FOLFLOX","x":4.45,"y":50},{"p":"66C","k":"c","d":"BOLD + FOLFLOX","x":4.77,"y":38},{"p":"66C","k":"c","d":"BOLD + FOLFLOX","x":5.15,"y":25},{"p":"66C","k":"c","d":"BOLD + FOLFLOX","x":5.59,"y":13},
      {"p":"66C","k":"c","d":"BOLD + FLOT","x":1.5,"y":100},{"p":"66C","k":"c","d":"BOLD + FLOT","x":3.5,"y":100},{"p":"66C","k":"c","d":"BOLD + FLOT","x":4,"y":99.5},{"p":"66C","k":"c","d":"BOLD + FLOT","x":4.26,"y":97},{"p":"66C","k":"c","d":"BOLD + FLOT","x":4.51,"y":85},{"p":"66C","k":"c","d":"BOLD + FLOT","x":4.7,"y":69},{"p":"66C","k":"c","d":"BOLD + FLOT","x":4.87,"y":50},{"p":"66C","k":"c","d":"BOLD + FLOT","x":5.02,"y":37},{"p":"66C","k":"c","d":"BOLD + FLOT","x":5.21,"y":21},{"p":"66C","k":"c","d":"BOLD + FLOT","x":5.4,"y":11},{"p":"66C","k":"c","d":"BOLD + FLOT","x":5.59,"y":4},
      {"p":"66C","k":"c","d":"FLOT","x":1.5,"y":90},{"p":"66C","k":"c","d":"FLOT","x":2.1,"y":79},{"p":"66C","k":"c","d":"FLOT","x":2.6,"y":63},{"p":"66C","k":"c","d":"FLOT","x":2.99,"y":51},{"p":"66C","k":"c","d":"FLOT","x":3.3,"y":41},{"p":"66C","k":"c","d":"FLOT","x":3.63,"y":31},{"p":"66C","k":"c","d":"FLOT","x":4.13,"y":18},{"p":"66C","k":"c","d":"FLOT","x":4.64,"y":8},
      {"p":"66C","k":"c","d":"FOLFOX","x":1.5,"y":71},{"p":"66C","k":"c","d":"FOLFOX","x":2,"y":61},{"p":"66C","k":"c","d":"FOLFOX","x":2.35,"y":54},{"p":"66C","k":"c","d":"FOLFOX","x":2.55,"y":50},{"p":"66C","k":"c","d":"FOLFOX","x":2.99,"y":43},{"p":"66C","k":"c","d":"FOLFOX","x":3.63,"y":30},{"p":"66C","k":"c","d":"FOLFOX","x":4.13,"y":20},{"p":"66C","k":"c","d":"FOLFOX","x":4.8,"y":10},
      {"p":"66C","k":"o","d":"FLOT","x":1.6,"y":100},{"p":"66C","k":"o","d":"FLOT","x":2.1,"y":76},{"p":"66C","k":"o","d":"FLOT","x":2.61,"y":58},{"p":"66C","k":"o","d":"FLOT","x":3.59,"y":35},{"p":"66C","k":"o","d":"FLOT","x":4.13,"y":19},
      {"p":"66C","k":"o","d":"FOLFOX","x":1.79,"y":53},{"p":"66C","k":"o","d":"FOLFOX","x":2.29,"y":56},{"p":"66C","k":"o","d":"FOLFOX","x":2.8,"y":40},{"p":"66C","k":"o","d":"FOLFOX","x":3.3,"y":37},{"p":"66C","k":"o","d":"FOLFOX","x":3.81,"y":26},{"p":"66C","k":"o","d":"FOLFOX","x":4.29,"y":17},{"p":"66C","k":"o","d":"FOLFOX","x":4.8,"y":0},
      {"p":"66C","k":"o","d":"BOLD","x":4.35,"y":51},{"p":"66C","k":"o","d":"BOLD","x":4.87,"y":57},{"p":"66C","k":"o","d":"BOLD","x":5.08,"y":56},{"p":"66C","k":"o","d":"BOLD","x":5.36,"y":51},{"p":"66C","k":"o","d":"BOLD","x":5.59,"y":16},{"p":"66C","k":"o","d":"BOLD","x":5.87,"y":0},
      {"p":"66C","k":"o","d":"BOLD + FLOT","x":4.04,"y":96},{"p":"66C","k":"o","d":"BOLD + FLOT","x":4.3,"y":98},{"p":"66C","k":"o","d":"BOLD + FLOT","x":4.54,"y":78},{"p":"66C","k":"o","d":"BOLD + FLOT","x":5.05,"y":32},{"p":"66C","k":"o","d":"BOLD + FLOT","x":5.3,"y":11},
      {"p":"66C","k":"o","d":"BOLD + FOLFLOX","x":4.07,"y":47},{"p":"66C","k":"o","d":"BOLD + FOLFLOX","x":4.29,"y":60},{"p":"66C","k":"o","d":"BOLD + FOLFLOX","x":4.79,"y":42},{"p":"66C","k":"o","d":"BOLD + FOLFLOX","x":5.59,"y":0},

      {"p":"71N","k":"c","d":"BOLD","x":1.5,"y":100},{"p":"71N","k":"c","d":"BOLD","x":4.49,"y":99.6},{"p":"71N","k":"c","d":"BOLD","x":4.72,"y":97.5},{"p":"71N","k":"c","d":"BOLD","x":4.89,"y":90.9},{"p":"71N","k":"c","d":"BOLD","x":5.04,"y":76},{"p":"71N","k":"c","d":"BOLD","x":5.18,"y":50},{"p":"71N","k":"c","d":"BOLD","x":5.32,"y":24},{"p":"71N","k":"c","d":"BOLD","x":5.47,"y":9.1},{"p":"71N","k":"c","d":"BOLD","x":5.64,"y":2.5},{"p":"71N","k":"c","d":"BOLD","x":5.85,"y":0.4},
      {"p":"71N","k":"c","d":"BOLD + FOLFLOX","x":1.5,"y":100},{"p":"71N","k":"c","d":"BOLD + FOLFLOX","x":4.33,"y":99.6},{"p":"71N","k":"c","d":"BOLD + FOLFLOX","x":4.46,"y":97.5},{"p":"71N","k":"c","d":"BOLD + FOLFLOX","x":4.56,"y":90.9},{"p":"71N","k":"c","d":"BOLD + FOLFLOX","x":4.65,"y":76},{"p":"71N","k":"c","d":"BOLD + FOLFLOX","x":4.73,"y":50},{"p":"71N","k":"c","d":"BOLD + FOLFLOX","x":4.81,"y":24},{"p":"71N","k":"c","d":"BOLD + FOLFLOX","x":4.9,"y":9.1},{"p":"71N","k":"c","d":"BOLD + FOLFLOX","x":5,"y":2.5},{"p":"71N","k":"c","d":"BOLD + FOLFLOX","x":5.13,"y":0.4},{"p":"71N","k":"c","d":"BOLD + FOLFLOX","x":5.6,"y":0},
      {"p":"71N","k":"c","d":"BOLD + FLOT","x":1.5,"y":100},{"p":"71N","k":"c","d":"BOLD + FLOT","x":4.33,"y":99.6},{"p":"71N","k":"c","d":"BOLD + FLOT","x":4.45,"y":97.5},{"p":"71N","k":"c","d":"BOLD + FLOT","x":4.55,"y":90.9},{"p":"71N","k":"c","d":"BOLD + FLOT","x":4.62,"y":76},{"p":"71N","k":"c","d":"BOLD + FLOT","x":4.7,"y":50},{"p":"71N","k":"c","d":"BOLD + FLOT","x":4.78,"y":24},{"p":"71N","k":"c","d":"BOLD + FLOT","x":4.85,"y":9.1},{"p":"71N","k":"c","d":"BOLD + FLOT","x":4.95,"y":2.5},{"p":"71N","k":"c","d":"BOLD + FLOT","x":5.07,"y":0.4},{"p":"71N","k":"c","d":"BOLD + FLOT","x":5.6,"y":0},
      {"p":"71N","k":"c","d":"FLOT","x":1.5,"y":100},{"p":"71N","k":"c","d":"FLOT","x":2.09,"y":99.6},{"p":"71N","k":"c","d":"FLOT","x":2.34,"y":97.5},{"p":"71N","k":"c","d":"FLOT","x":2.52,"y":90.9},{"p":"71N","k":"c","d":"FLOT","x":2.67,"y":76},{"p":"71N","k":"c","d":"FLOT","x":2.82,"y":50},{"p":"71N","k":"c","d":"FLOT","x":2.97,"y":24},{"p":"71N","k":"c","d":"FLOT","x":3.12,"y":9.1},{"p":"71N","k":"c","d":"FLOT","x":3.3,"y":2.5},{"p":"71N","k":"c","d":"FLOT","x":3.55,"y":0.4},{"p":"71N","k":"c","d":"FLOT","x":4.7,"y":0},
      {"p":"71N","k":"c","d":"FOLFOX","x":1.5,"y":100},{"p":"71N","k":"c","d":"FOLFOX","x":2.17,"y":99.6},{"p":"71N","k":"c","d":"FOLFOX","x":2.42,"y":97.5},{"p":"71N","k":"c","d":"FOLFOX","x":2.61,"y":90.9},{"p":"71N","k":"c","d":"FOLFOX","x":2.76,"y":76},{"p":"71N","k":"c","d":"FOLFOX","x":2.92,"y":50},{"p":"71N","k":"c","d":"FOLFOX","x":3.08,"y":24},{"p":"71N","k":"c","d":"FOLFOX","x":3.23,"y":9.1},{"p":"71N","k":"c","d":"FOLFOX","x":3.42,"y":2.5},{"p":"71N","k":"c","d":"FOLFOX","x":3.67,"y":0.4},{"p":"71N","k":"c","d":"FOLFOX","x":4.82,"y":0},
      {"p":"71N","k":"o","d":"FLOT","x":1.65,"y":95},{"p":"71N","k":"o","d":"FLOT","x":2.13,"y":100},{"p":"71N","k":"o","d":"FLOT","x":3.38,"y":11},{"p":"71N","k":"o","d":"FLOT","x":3.64,"y":5},{"p":"71N","k":"o","d":"FLOT","x":4.11,"y":4},
      {"p":"71N","k":"o","d":"FOLFOX","x":1.81,"y":97},{"p":"71N","k":"o","d":"FOLFOX","x":2.31,"y":100},{"p":"71N","k":"o","d":"FOLFOX","x":2.9,"y":60},{"p":"71N","k":"o","d":"FOLFOX","x":3.82,"y":4},{"p":"71N","k":"o","d":"FOLFOX","x":4.29,"y":2},{"p":"71N","k":"o","d":"FOLFOX","x":4.79,"y":0},
      {"p":"71N","k":"o","d":"BOLD","x":4.34,"y":69},{"p":"71N","k":"o","d":"BOLD","x":4.58,"y":91},{"p":"71N","k":"o","d":"BOLD","x":4.83,"y":100},{"p":"71N","k":"o","d":"BOLD","x":5.12,"y":71},{"p":"71N","k":"o","d":"BOLD","x":5.33,"y":19},{"p":"71N","k":"o","d":"BOLD","x":5.84,"y":4},
      {"p":"71N","k":"o","d":"BOLD + FLOT","x":4.04,"y":75},{"p":"71N","k":"o","d":"BOLD + FLOT","x":4.29,"y":100},{"p":"71N","k":"o","d":"BOLD + FLOT","x":4.79,"y":18},{"p":"71N","k":"o","d":"BOLD + FLOT","x":5.08,"y":6},{"p":"71N","k":"o","d":"BOLD + FLOT","x":5.58,"y":4},
      {"p":"71N","k":"o","d":"BOLD + FOLFLOX","x":4.05,"y":100},{"p":"71N","k":"o","d":"BOLD + FOLFLOX","x":5.02,"y":11},{"p":"71N","k":"o","d":"BOLD + FOLFLOX","x":5.58,"y":0},

      {"p":"71C","k":"c","d":"BOLD","x":1.5,"y":100},{"p":"71C","k":"c","d":"BOLD","x":4.32,"y":99.6},{"p":"71C","k":"c","d":"BOLD","x":4.59,"y":97.5},{"p":"71C","k":"c","d":"BOLD","x":4.79,"y":90.9},{"p":"71C","k":"c","d":"BOLD","x":4.95,"y":76},{"p":"71C","k":"c","d":"BOLD","x":5.12,"y":50},{"p":"71C","k":"c","d":"BOLD","x":5.29,"y":24},{"p":"71C","k":"c","d":"BOLD","x":5.45,"y":9.1},{"p":"71C","k":"c","d":"BOLD","x":5.65,"y":2.5},{"p":"71C","k":"c","d":"BOLD","x":5.85,"y":0.6},
      {"p":"71C","k":"c","d":"BOLD + FOLFLOX","x":1.5,"y":92},{"p":"71C","k":"c","d":"BOLD + FOLFLOX","x":2,"y":87},{"p":"71C","k":"c","d":"BOLD + FOLFLOX","x":2.36,"y":83},{"p":"71C","k":"c","d":"BOLD + FOLFLOX","x":2.99,"y":71},{"p":"71C","k":"c","d":"BOLD + FOLFLOX","x":3.63,"y":56},{"p":"71C","k":"c","d":"BOLD + FOLFLOX","x":3.88,"y":50},{"p":"71C","k":"c","d":"BOLD + FOLFLOX","x":4.26,"y":41},{"p":"71C","k":"c","d":"BOLD + FOLFLOX","x":4.6,"y":32},{"p":"71C","k":"c","d":"BOLD + FOLFLOX","x":4.9,"y":25},{"p":"71C","k":"c","d":"BOLD + FOLFLOX","x":5.2,"y":18},{"p":"71C","k":"c","d":"BOLD + FOLFLOX","x":5.53,"y":13},{"p":"71C","k":"c","d":"BOLD + FOLFLOX","x":5.78,"y":10},
      {"p":"71C","k":"c","d":"BOLD + FLOT","x":1.5,"y":100},{"p":"71C","k":"c","d":"BOLD + FLOT","x":3,"y":99.8},{"p":"71C","k":"c","d":"BOLD + FLOT","x":3.37,"y":99},{"p":"71C","k":"c","d":"BOLD + FLOT","x":3.75,"y":95},{"p":"71C","k":"c","d":"BOLD + FLOT","x":4,"y":83},{"p":"71C","k":"c","d":"BOLD + FLOT","x":4.2,"y":66.5},{"p":"71C","k":"c","d":"BOLD + FLOT","x":4.36,"y":50},{"p":"71C","k":"c","d":"BOLD + FLOT","x":4.58,"y":30},{"p":"71C","k":"c","d":"BOLD + FLOT","x":4.83,"y":14},{"p":"71C","k":"c","d":"BOLD + FLOT","x":5.31,"y":3},
      {"p":"71C","k":"c","d":"FLOT","x":1.5,"y":99.2},{"p":"71C","k":"c","d":"FLOT","x":2,"y":97.3},{"p":"71C","k":"c","d":"FLOT","x":2.5,"y":90.9},{"p":"71C","k":"c","d":"FLOT","x":3,"y":73.8},{"p":"71C","k":"c","d":"FLOT","x":3.2,"y":62.8},{"p":"71C","k":"c","d":"FLOT","x":3.41,"y":50},{"p":"71C","k":"c","d":"FLOT","x":3.75,"y":29.7},{"p":"71C","k":"c","d":"FLOT","x":4.13,"y":13.9},{"p":"71C","k":"c","d":"FLOT","x":4.64,"y":4.3},
      {"p":"71C","k":"c","d":"FOLFOX","x":1.5,"y":99.1},{"p":"71C","k":"c","d":"FOLFOX","x":2,"y":97.3},{"p":"71C","k":"c","d":"FOLFOX","x":2.5,"y":91.8},{"p":"71C","k":"c","d":"FOLFOX","x":3,"y":78},{"p":"71C","k":"c","d":"FOLFOX","x":3.25,"y":66.6},{"p":"71C","k":"c","d":"FOLFOX","x":3.55,"y":50},{"p":"71C","k":"c","d":"FOLFOX","x":4,"y":26.2},{"p":"71C","k":"c","d":"FOLFOX","x":4.39,"y":12.6},{"p":"71C","k":"c","d":"FOLFOX","x":4.81,"y":5.2},
      {"p":"71C","k":"o","d":"FLOT","x":1.6,"y":92},{"p":"71C","k":"o","d":"FLOT","x":2.1,"y":100},{"p":"71C","k":"o","d":"FLOT","x":3.14,"y":43},{"p":"71C","k":"o","d":"FLOT","x":3.63,"y":29},
      {"p":"71C","k":"o","d":"FOLFOX","x":1.79,"y":100},{"p":"71C","k":"o","d":"FOLFOX","x":2.29,"y":96},{"p":"71C","k":"o","d":"FOLFOX","x":2.8,"y":83},{"p":"71C","k":"o","d":"FOLFOX","x":4.29,"y":18},{"p":"71C","k":"o","d":"FOLFOX","x":4.77,"y":0},
      {"p":"71C","k":"o","d":"BOLD","x":4.35,"y":78},{"p":"71C","k":"o","d":"BOLD","x":4.58,"y":91},{"p":"71C","k":"o","d":"BOLD","x":4.86,"y":98},{"p":"71C","k":"o","d":"BOLD","x":5.09,"y":55},{"p":"71C","k":"o","d":"BOLD","x":5.34,"y":23},{"p":"71C","k":"o","d":"BOLD","x":5.87,"y":27},
      {"p":"71C","k":"o","d":"BOLD + FLOT","x":4.1,"y":79},{"p":"71C","k":"o","d":"BOLD + FLOT","x":4.29,"y":55},{"p":"71C","k":"o","d":"BOLD + FLOT","x":4.81,"y":19},{"p":"71C","k":"o","d":"BOLD + FLOT","x":5.05,"y":12},{"p":"71C","k":"o","d":"BOLD + FLOT","x":5.59,"y":0},
      {"p":"71C","k":"o","d":"BOLD + FOLFLOX","x":4.55,"y":32},{"p":"71C","k":"o","d":"BOLD + FOLFLOX","x":4.81,"y":29},{"p":"71C","k":"o","d":"BOLD + FOLFLOX","x":5.31,"y":5},{"p":"71C","k":"o","d":"BOLD + FOLFLOX","x":5.59,"y":10}
    ]
  },
  "columns": 2,
  "spacing": {"row": 32.5, "column": 17},
  "resolve": {"scale": {"color": "independent"}, "legend": {"color": "independent"}},
  "concat": [
    {"title": {"text": "54N", "fontWeight": "normal"}, "width": 121, "height": 84, "transform": [{"filter": "datum.p == '54N'"}],
     "encoding": {"x": {"field": "x", "type": "quantitative", "scale": {"domain": [1.5, 6], "nice": false, "zero": false}, "axis": {"values": [2, 4, 6], "title": "log [nM]"}}, "y": {"field": "y", "type": "quantitative", "scale": {"domain": [0, 100], "nice": false}, "axis": {"values": [0, 50, 100], "title": "% Viability"}}, "color": {"field": "d", "type": "nominal", "scale": {"domain": ["BOLD", "BOLD + FLOT", "BOLD + FOLFLOX", "FLOT", "FOLFOX"], "range": ["#2020FF", "#FF2020", "#FF8A1C", "#A321E8", "#16803F"]}, "legend": {"title": null}}},
     "layer": [
       {"data": {"values": [{}]}, "mark": {"type": "rule", "strokeDash": [2, 2], "strokeWidth": 1}, "encoding": {"x": {"datum": 1.5}, "x2": {"datum": 6}, "y": {"datum": 50}, "color": {"value": "#111"}}},
       {"transform": [{"filter": "datum.k == 'c'"}], "mark": {"type": "line", "interpolate": "monotone", "strokeWidth": 1.6}},
       {"transform": [{"filter": "datum.k == 'o'"}], "mark": {"type": "point", "filled": false, "size": 22, "strokeWidth": 0.8, "strokeOpacity": 0.5}}
     ]},
    {"title": {"text": "54C", "fontWeight": "normal"}, "width": 121, "height": 84, "transform": [{"filter": "datum.p == '54C'"}],
     "encoding": {"x": {"field": "x", "type": "quantitative", "scale": {"domain": [1.5, 6], "nice": false, "zero": false}, "axis": {"values": [2, 4, 6], "title": "log [nM]"}}, "y": {"field": "y", "type": "quantitative", "scale": {"domain": [0, 100], "nice": false}, "axis": {"values": [0, 50, 100], "title": "% Viability"}}, "color": {"field": "d", "type": "nominal", "scale": {"domain": ["BOLD", "BOLD + FLOT", "BOLD + FOLFLOX", "FLOT", "FOLFOX"], "range": ["#2020FF", "#FF2020", "#FF8A1C", "#A321E8", "#16803F"]}, "legend": {"title": null}}},
     "layer": [
       {"data": {"values": [{}]}, "mark": {"type": "rule", "strokeDash": [2, 2], "strokeWidth": 1}, "encoding": {"x": {"datum": 1.5}, "x2": {"datum": 6}, "y": {"datum": 50}, "color": {"value": "#111"}}},
       {"transform": [{"filter": "datum.k == 'c'"}], "mark": {"type": "line", "interpolate": "monotone", "strokeWidth": 1.6}},
       {"transform": [{"filter": "datum.k == 'o'"}], "mark": {"type": "point", "filled": false, "size": 22, "strokeWidth": 0.8, "strokeOpacity": 0.5}}
     ]},
    {"title": {"text": "55N", "fontWeight": "normal"}, "width": 121, "height": 84, "transform": [{"filter": "datum.p == '55N'"}],
     "encoding": {"x": {"field": "x", "type": "quantitative", "scale": {"domain": [1.5, 6], "nice": false, "zero": false}, "axis": {"values": [2, 4, 6], "title": "log [nM]"}}, "y": {"field": "y", "type": "quantitative", "scale": {"domain": [0, 100], "nice": false}, "axis": {"values": [0, 50, 100], "title": "% Viability"}}, "color": {"field": "d", "type": "nominal", "scale": {"domain": ["BOLD", "BOLD + FLOT", "BOLD + FOLFLOX", "FLOT", "FOLFOX"], "range": ["#2020FF", "#FF2020", "#FF8A1C", "#A321E8", "#16803F"]}, "legend": {"title": null}}},
     "layer": [
       {"data": {"values": [{}]}, "mark": {"type": "rule", "strokeDash": [2, 2], "strokeWidth": 1}, "encoding": {"x": {"datum": 1.5}, "x2": {"datum": 6}, "y": {"datum": 50}, "color": {"value": "#111"}}},
       {"transform": [{"filter": "datum.k == 'c'"}], "mark": {"type": "line", "interpolate": "monotone", "strokeWidth": 1.6}},
       {"transform": [{"filter": "datum.k == 'o'"}], "mark": {"type": "point", "filled": false, "size": 22, "strokeWidth": 0.8, "strokeOpacity": 0.5}}
     ]},
    {"title": {"text": "55C", "fontWeight": "normal"}, "width": 121, "height": 84, "transform": [{"filter": "datum.p == '55C'"}],
     "encoding": {"x": {"field": "x", "type": "quantitative", "scale": {"domain": [1.5, 6], "nice": false, "zero": false}, "axis": {"values": [2, 4, 6], "title": "log [nM]"}}, "y": {"field": "y", "type": "quantitative", "scale": {"domain": [0, 100], "nice": false}, "axis": {"values": [0, 50, 100], "title": "% Viability"}}, "color": {"field": "d", "type": "nominal", "scale": {"domain": ["BOLD", "BOLD + FLOT", "BOLD + FOLFLOX", "FLOT", "FOLFOX"], "range": ["#2020FF", "#FF2020", "#FF8A1C", "#A321E8", "#16803F"]}, "legend": {"title": null}}},
     "layer": [
       {"data": {"values": [{}]}, "mark": {"type": "rule", "strokeDash": [2, 2], "strokeWidth": 1}, "encoding": {"x": {"datum": 1.5}, "x2": {"datum": 6}, "y": {"datum": 50}, "color": {"value": "#111"}}},
       {"transform": [{"filter": "datum.k == 'c'"}], "mark": {"type": "line", "interpolate": "monotone", "strokeWidth": 1.6}},
       {"transform": [{"filter": "datum.k == 'o'"}], "mark": {"type": "point", "filled": false, "size": 22, "strokeWidth": 0.8, "strokeOpacity": 0.5}}
     ]},
    {"title": {"text": "59N", "fontWeight": "normal"}, "width": 121, "height": 84, "transform": [{"filter": "datum.p == '59N'"}],
     "encoding": {"x": {"field": "x", "type": "quantitative", "scale": {"domain": [1.5, 6], "nice": false, "zero": false}, "axis": {"values": [2, 4, 6], "title": "log [nM]"}}, "y": {"field": "y", "type": "quantitative", "scale": {"domain": [0, 100], "nice": false}, "axis": {"values": [0, 50, 100], "title": "% Viability"}}, "color": {"field": "d", "type": "nominal", "scale": {"domain": ["BOLD", "BOLD + FLOT", "BOLD + FOLFLOX", "FLOT", "FOLFOX"], "range": ["#2020FF", "#FF2020", "#FF8A1C", "#A321E8", "#16803F"]}, "legend": {"title": null}}},
     "layer": [
       {"data": {"values": [{}]}, "mark": {"type": "rule", "strokeDash": [2, 2], "strokeWidth": 1}, "encoding": {"x": {"datum": 1.5}, "x2": {"datum": 6}, "y": {"datum": 50}, "color": {"value": "#111"}}},
       {"transform": [{"filter": "datum.k == 'c'"}], "mark": {"type": "line", "interpolate": "monotone", "strokeWidth": 1.6}},
       {"transform": [{"filter": "datum.k == 'o'"}], "mark": {"type": "point", "filled": false, "size": 22, "strokeWidth": 0.8, "strokeOpacity": 0.5}}
     ]},
    {"title": {"text": "59C", "fontWeight": "normal"}, "width": 121, "height": 84, "transform": [{"filter": "datum.p == '59C'"}],
     "encoding": {"x": {"field": "x", "type": "quantitative", "scale": {"domain": [1.5, 6], "nice": false, "zero": false}, "axis": {"values": [2, 4, 6], "title": "log [nM]"}}, "y": {"field": "y", "type": "quantitative", "scale": {"domain": [0, 100], "nice": false}, "axis": {"values": [0, 50, 100], "title": "% Viability"}}, "color": {"field": "d", "type": "nominal", "scale": {"domain": ["BOLD", "BOLD + FLOT", "BOLD + FOLFLOX", "FLOT", "FOLFOX"], "range": ["#2020FF", "#FF2020", "#FF8A1C", "#A321E8", "#16803F"]}, "legend": {"title": null}}},
     "layer": [
       {"data": {"values": [{}]}, "mark": {"type": "rule", "strokeDash": [2, 2], "strokeWidth": 1}, "encoding": {"x": {"datum": 1.5}, "x2": {"datum": 6}, "y": {"datum": 50}, "color": {"value": "#111"}}},
       {"transform": [{"filter": "datum.k == 'c'"}], "mark": {"type": "line", "interpolate": "monotone", "strokeWidth": 1.6}},
       {"transform": [{"filter": "datum.k == 'o'"}], "mark": {"type": "point", "filled": false, "size": 22, "strokeWidth": 0.8, "strokeOpacity": 0.5}}
     ]},
    {"title": {"text": "66N", "fontWeight": "normal"}, "width": 121, "height": 84, "transform": [{"filter": "datum.p == '66N'"}],
     "encoding": {"x": {"field": "x", "type": "quantitative", "scale": {"domain": [1.5, 6], "nice": false, "zero": false}, "axis": {"values": [2, 4, 6], "title": "log [nM]"}}, "y": {"field": "y", "type": "quantitative", "scale": {"domain": [0, 100], "nice": false}, "axis": {"values": [0, 50, 100], "title": "% Viability"}}, "color": {"field": "d", "type": "nominal", "scale": {"domain": ["BOLD", "BOLD + FLOT", "BOLD + FOLFLOX", "FLOT", "FOLFOX"], "range": ["#2020FF", "#FF2020", "#FF8A1C", "#A321E8", "#16803F"]}, "legend": {"title": null}}},
     "layer": [
       {"data": {"values": [{}]}, "mark": {"type": "rule", "strokeDash": [2, 2], "strokeWidth": 1}, "encoding": {"x": {"datum": 1.5}, "x2": {"datum": 6}, "y": {"datum": 50}, "color": {"value": "#111"}}},
       {"transform": [{"filter": "datum.k == 'c'"}], "mark": {"type": "line", "interpolate": "monotone", "strokeWidth": 1.6}},
       {"transform": [{"filter": "datum.k == 'o'"}], "mark": {"type": "point", "filled": false, "size": 22, "strokeWidth": 0.8, "strokeOpacity": 0.5}}
     ]},
    {"title": {"text": "66C", "fontWeight": "normal"}, "width": 121, "height": 84, "transform": [{"filter": "datum.p == '66C'"}],
     "encoding": {"x": {"field": "x", "type": "quantitative", "scale": {"domain": [1.5, 6], "nice": false, "zero": false}, "axis": {"values": [2, 4, 6], "title": "log [nM]"}}, "y": {"field": "y", "type": "quantitative", "scale": {"domain": [0, 100], "nice": false}, "axis": {"values": [0, 50, 100], "title": "% Viability"}}, "color": {"field": "d", "type": "nominal", "scale": {"domain": ["BOLD", "BOLD + FLOT", "BOLD + FOLFLOX", "FLOT", "FOLFOX"], "range": ["#2020FF", "#FF2020", "#FF8A1C", "#A321E8", "#16803F"]}, "legend": {"title": null}}},
     "layer": [
       {"data": {"values": [{}]}, "mark": {"type": "rule", "strokeDash": [2, 2], "strokeWidth": 1}, "encoding": {"x": {"datum": 1.5}, "x2": {"datum": 6}, "y": {"datum": 50}, "color": {"value": "#111"}}},
       {"transform": [{"filter": "datum.k == 'c'"}], "mark": {"type": "line", "interpolate": "monotone", "strokeWidth": 1.6}},
       {"transform": [{"filter": "datum.k == 'o'"}], "mark": {"type": "point", "filled": false, "size": 22, "strokeWidth": 0.8, "strokeOpacity": 0.5}}
     ]},
    {"title": {"text": "71N", "fontWeight": "normal"}, "width": 121, "height": 84, "transform": [{"filter": "datum.p == '71N'"}],
     "encoding": {"x": {"field": "x", "type": "quantitative", "scale": {"domain": [1.5, 6], "nice": false, "zero": false}, "axis": {"values": [2, 4, 6], "title": "log [nM]"}}, "y": {"field": "y", "type": "quantitative", "scale": {"domain": [0, 100], "nice": false}, "axis": {"values": [0, 50, 100], "title": "% Viability"}}, "color": {"field": "d", "type": "nominal", "scale": {"domain": ["BOLD", "BOLD + FLOT", "BOLD + FOLFLOX", "FLOT", "FOLFOX"], "range": ["#2020FF", "#FF2020", "#FF8A1C", "#A321E8", "#16803F"]}, "legend": {"title": null}}},
     "layer": [
       {"data": {"values": [{}]}, "mark": {"type": "rule", "strokeDash": [2, 2], "strokeWidth": 1}, "encoding": {"x": {"datum": 1.5}, "x2": {"datum": 6}, "y": {"datum": 50}, "color": {"value": "#111"}}},
       {"transform": [{"filter": "datum.k == 'c'"}], "mark": {"type": "line", "interpolate": "monotone", "strokeWidth": 1.6}},
       {"transform": [{"filter": "datum.k == 'o'"}], "mark": {"type": "point", "filled": false, "size": 22, "strokeWidth": 0.8, "strokeOpacity": 0.5}}
     ]},
    {"title": {"text": "71C", "fontWeight": "normal"}, "width": 121, "height": 84, "transform": [{"filter": "datum.p == '71C'"}],
     "encoding": {"x": {"field": "x", "type": "quantitative", "scale": {"domain": [1.5, 6], "nice": false, "zero": false}, "axis": {"values": [2, 4, 6], "title": "log [nM]"}}, "y": {"field": "y", "type": "quantitative", "scale": {"domain": [0, 100], "nice": false}, "axis": {"values": [0, 50, 100], "title": "% Viability"}}, "color": {"field": "d", "type": "nominal", "scale": {"domain": ["BOLD", "BOLD + FLOT", "BOLD + FOLFLOX", "FLOT", "FOLFOX"], "range": ["#2020FF", "#FF2020", "#FF8A1C", "#A321E8", "#16803F"]}, "legend": {"title": null}}},
     "layer": [
       {"data": {"values": [{}]}, "mark": {"type": "rule", "strokeDash": [2, 2], "strokeWidth": 1}, "encoding": {"x": {"datum": 1.5}, "x2": {"datum": 6}, "y": {"datum": 50}, "color": {"value": "#111"}}},
       {"transform": [{"filter": "datum.k == 'c'"}], "mark": {"type": "line", "interpolate": "monotone", "strokeWidth": 1.6}},
       {"transform": [{"filter": "datum.k == 'o'"}], "mark": {"type": "point", "filled": false, "size": 22, "strokeWidth": 0.8, "strokeOpacity": 0.5}}
     ]}
  ]
}
